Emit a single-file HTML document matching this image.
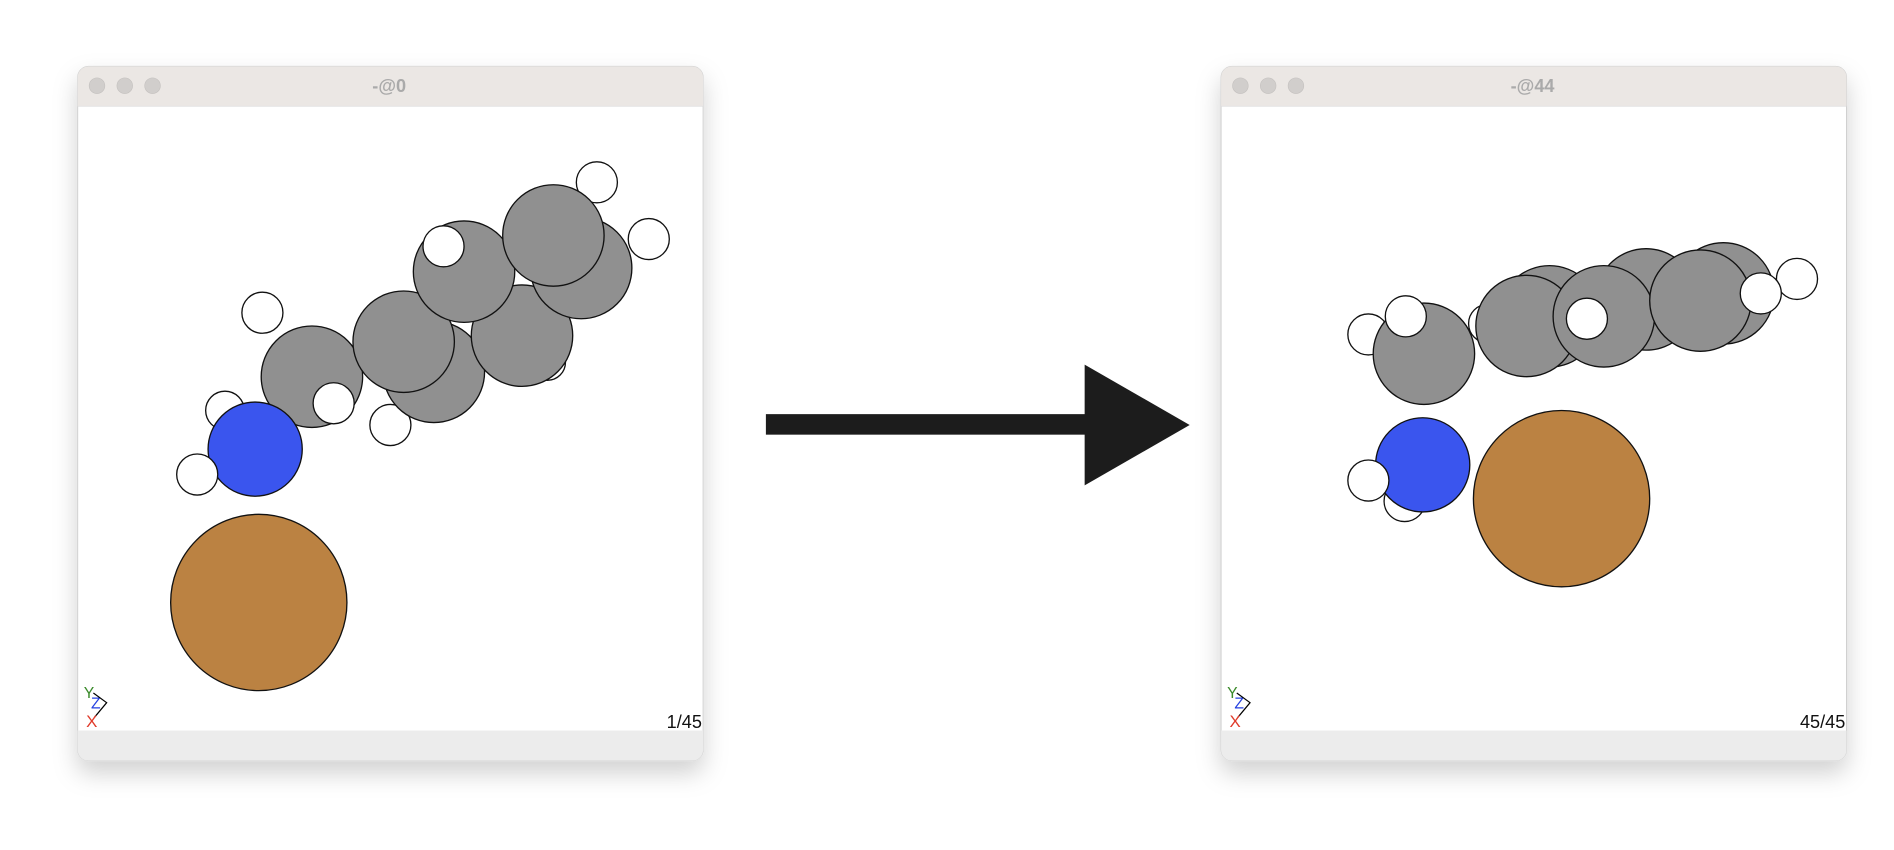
<!DOCTYPE html>
<html><head><meta charset="utf-8"><style>
html,body{margin:0;padding:0;background:#fff;}
svg{display:block;font-family:"Liberation Sans",sans-serif;}
</style></head><body>
<svg width="1894" height="850" viewBox="0 0 1568 704" xmlns="http://www.w3.org/2000/svg">
<defs>
<filter id="sh" x="-20%" y="-20%" width="140%" height="150%"><feDropShadow dx="0" dy="10" stdDeviation="10" flood-color="#000" flood-opacity="0.18"/></filter>
<g id="win">
<rect x="0" y="0" width="518" height="575" rx="9" fill="#fff" stroke="#cfcfcf" stroke-width="0.8" filter="url(#sh)"/>
<path d="M0 33 V9 A9 9 0 0 1 9 0 H509 A9 9 0 0 1 518 9 V33 Z" fill="#ebe7e4"/>
<line x1="0" y1="33" x2="518" y2="33" stroke="#ddd" stroke-width="0.6"/>
<circle cx="16" cy="16" r="6.5" fill="#d1cecc" stroke="#c4c1bf" stroke-width="0.5"/>
<circle cx="39" cy="16" r="6.5" fill="#d1cecc" stroke="#c4c1bf" stroke-width="0.5"/>
<circle cx="62" cy="16" r="6.5" fill="#d1cecc" stroke="#c4c1bf" stroke-width="0.5"/>
<path d="M0 550 H518 V566 A9 9 0 0 1 509 575 H9 A9 9 0 0 1 0 566 Z" fill="#ececec"/>
<text x="5" y="523" font-size="13" fill="#3a8a2a">Y</text>
<text x="11" y="532" font-size="13" fill="#2540e0">Z</text>
<path d="M13 519 L24 527 L14 539" fill="none" stroke="#000" stroke-width="1"/>
<text x="7" y="547" font-size="14" fill="#e03a2a">X</text>
</g>
</defs>

<g transform="translate(64,55)"><use href="#win"/>
<text x="258" y="21" font-size="15" font-weight="bold" fill="#aaa" text-anchor="middle">-@0</text>
<text x="517" y="548" font-size="15" fill="#111" text-anchor="end">1/45</text></g>
<g transform="translate(1011,55)"><use href="#win"/>
<text x="258" y="21" font-size="15" font-weight="bold" fill="#aaa" text-anchor="middle">-@44</text>
<text x="517" y="548" font-size="15" fill="#111" text-anchor="end">45/45</text></g>

<g stroke="#111" stroke-width="1.1">
<circle cx="214" cy="499" r="73" fill="#bb8242"/>
<circle cx="186" cy="340" r="16" fill="#fff"/>
<circle cx="217" cy="259" r="17" fill="#fff"/>
<circle cx="258" cy="312" r="42" fill="#909090"/>
<circle cx="211" cy="372" r="39" fill="#3a55ee"/>
<circle cx="163" cy="393" r="17" fill="#fff"/>
<circle cx="276" cy="334" r="17" fill="#fff"/>
<circle cx="323" cy="352" r="17" fill="#fff"/>
<circle cx="453" cy="300" r="15" fill="#fff"/>
<circle cx="359" cy="308" r="42" fill="#909090"/>
<circle cx="334" cy="283" r="42" fill="#909090"/>
<circle cx="432" cy="278" r="42" fill="#909090"/>
<circle cx="384" cy="225" r="42" fill="#909090"/>
<circle cx="367" cy="204" r="17" fill="#fff"/>
<circle cx="481" cy="222" r="42" fill="#909090"/>
<circle cx="494" cy="151" r="17" fill="#fff"/>
<circle cx="458" cy="195" r="42" fill="#909090"/>
<circle cx="537" cy="198" r="17" fill="#fff"/>

<circle cx="1293" cy="413" r="73" fill="#bb8242"/>
<circle cx="1163" cy="415" r="17" fill="#fff"/>
<circle cx="1178" cy="385" r="39" fill="#3a55ee"/>
<circle cx="1133" cy="398" r="17" fill="#fff"/>
<circle cx="1133" cy="277" r="17" fill="#fff"/>
<circle cx="1179" cy="293" r="42" fill="#909090"/>
<circle cx="1164" cy="262" r="17" fill="#fff"/>
<circle cx="1232" cy="268" r="16" fill="#fff"/>
<circle cx="1283" cy="262" r="42" fill="#909090"/>
<circle cx="1264" cy="270" r="42" fill="#909090"/>
<circle cx="1363" cy="248" r="42" fill="#909090"/>
<circle cx="1328" cy="262" r="42" fill="#909090"/>
<circle cx="1314" cy="264" r="17" fill="#fff"/>
<circle cx="1427" cy="243" r="42" fill="#909090"/>
<circle cx="1408" cy="249" r="42" fill="#909090"/>
<circle cx="1488" cy="231" r="17" fill="#fff"/>
<circle cx="1458" cy="243" r="17" fill="#fff"/>
</g>

<rect x="634" y="343" width="266" height="17" fill="#1c1c1c"/>
<polygon points="898,302 985,352 898,402" fill="#1c1c1c"/>
</svg>
</body></html>
